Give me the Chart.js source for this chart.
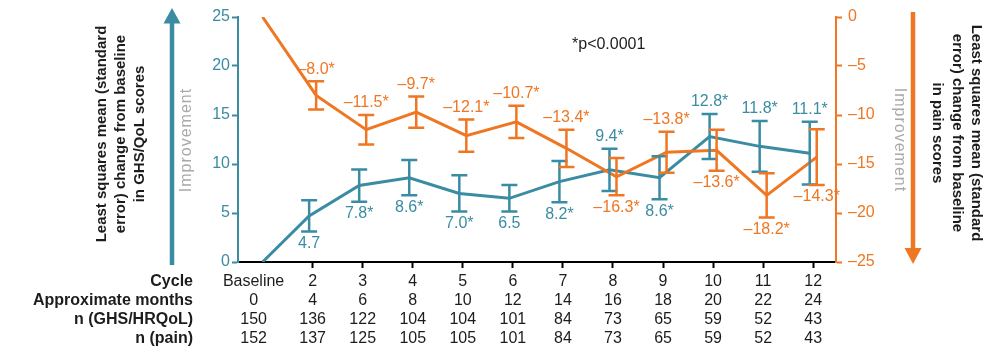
<!DOCTYPE html>
<html>
<head>
<meta charset="utf-8">
<script src="https://cdn.jsdelivr.net/npm/chart.js@4.4.1/dist/chart.umd.min.js"></script>
<style>
  html, body { margin: 0; padding: 0; background: #ffffff; }
  #wrap { width: 1008px; height: 349px; position: relative; }
</style>
</head>
<body>
<div id="wrap"><canvas id="c" width="1008" height="349"></canvas></div>
<script>
// Cycles and table rows
const cycles = ['Baseline', '2', '3', '4', '5', '6', '7', '8', '9', '10', '11', '12'];
const months = ['0', '4', '6', '8', '10', '12', '14', '16', '18', '20', '22', '24'];
const nGhs = [150, 136, 122, 104, 104, 101, 84, 73, 65, 59, 52, 43];
const nPain = [152, 137, 125, 105, 105, 101, 84, 73, 65, 59, 52, 43];

// GHS/QoL: least squares mean change from baseline and its standard error
const ghsChange = [0, 4.7, 7.8, 8.6, 7.0, 6.5, 8.2, 9.4, 8.6, 12.8, 11.8, 11.1];
const ghsSE = [null, 1.6, 1.65, 1.8, 1.85, 1.35, 2.1, 2.15, 2.2, 2.3, 2.6, 3.2];
const ghsSignificant = [false, false, true, true, true, false, true, true, true, true, true, true];
const ghsLabelAbove = [false, false, false, false, false, false, false, true, false, true, true, true];

// Pain: least squares mean change from baseline and its standard error
const painChange = [0, -8.0, -11.5, -9.7, -12.1, -10.7, -13.4, -16.3, -13.8, -13.6, -18.2, -14.3];
const painSE = [null, 1.45, 1.5, 1.6, 1.65, 1.65, 1.9, 1.9, 2.1, 2.1, 2.25, 2.85];
const painSignificant = [false, true, true, true, true, true, true, true, true, true, true, true];
const painLabelAbove = [false, true, true, true, true, true, true, false, true, false, false, false];

// Axis ticks
const ghsTicks = [0, 5, 10, 15, 20, 25];
const painTicks = [-25, -20, -15, -10, -5, 0];

const TEAL = '#3a8ca3';
const ORANGE = '#ef7622';
const GREY = '#a9a9a9';
const INK = '#1c1c1c';
const FONT = "'Liberation Sans', Arial, Helvetica, sans-serif";
const DODGE = 0.07; // side-by-side offset so the two error bars don't overlap

const dash = '\u2013';

function pts(values, shift) {
  return values.map((v, i) => ({ x: i + (i === 0 ? 0 : shift), y: v }));
}

// Error bars and value labels
const errorBarPlugin = {
  id: 'errorBars',
  afterDatasetsDraw(chart) {
    const ctx = chart.ctx;
    const series = [
      { ds: 0, axis: 'yL', vals: ghsChange, se: ghsSE, sig: ghsSignificant, above: ghsLabelAbove, color: TEAL,
        fmt: v => v.toFixed(1) },
      { ds: 1, axis: 'yR', vals: painChange, se: painSE, sig: painSignificant, above: painLabelAbove, color: ORANGE,
        fmt: v => (v < 0 ? dash : '') + Math.abs(v).toFixed(1) }
    ];
    ctx.save();
    series.forEach(s => {
      const meta = chart.getDatasetMeta(s.ds);
      const scale = chart.scales[s.axis];
      ctx.strokeStyle = s.color;
      ctx.fillStyle = s.color;
      ctx.lineWidth = 2.5;
      ctx.lineCap = 'butt';
      s.vals.forEach((v, i) => {
        if (s.se[i] == null) return;
        const x = meta.data[i].x;
        const yTop = scale.getPixelForValue(v + s.se[i]);
        const yBot = scale.getPixelForValue(v - s.se[i]);
        ctx.beginPath();
        ctx.moveTo(x, yTop); ctx.lineTo(x, yBot);
        ctx.moveTo(x - 8, yTop); ctx.lineTo(x + 8, yTop);
        ctx.moveTo(x - 8, yBot); ctx.lineTo(x + 8, yBot);
        ctx.stroke();
        ctx.font = '16px ' + FONT;
        ctx.textAlign = 'center';
        ctx.textBaseline = 'middle';
        const txt = s.fmt(v) + (s.sig[i] ? '*' : '');
        const ty = s.above[i] ? yTop - 12 : yBot + 12;
        ctx.fillText(txt, x, ty);
      });
    });
    ctx.restore();
  }
};

// Axis titles, direction arrows, footnote and the table under the axis
const decorPlugin = {
  id: 'decor',
  afterDraw(chart) {
    const ctx = chart.ctx;
    const xs = chart.scales.x;
    ctx.save();

    // left axis title
    ctx.fillStyle = INK;
    ctx.font = 'bold 15px ' + FONT;
    ctx.textAlign = 'center';
    ctx.textBaseline = 'middle';
    const leftTitle = ['Least squares mean (standard', 'error) change from baseline', 'in GHS/QoL scores'];
    ctx.save();
    ctx.translate(121, 134);
    ctx.rotate(-Math.PI / 2);
    leftTitle.forEach((t, j) => ctx.fillText(t, 0, (j - 1) * 19));
    ctx.restore();

    // right axis title
    const rightTitle = ['Least squares mean (standard', 'error) change from baseline', 'in pain scores'];
    ctx.save();
    ctx.translate(957, 133);
    ctx.rotate(Math.PI / 2);
    rightTitle.forEach((t, j) => ctx.fillText(t, 0, (j - 1) * 19.5));
    ctx.restore();

    // "Improvement" labels
    ctx.fillStyle = GREY;
    ctx.font = '16px ' + FONT;
    if ('letterSpacing' in ctx) ctx.letterSpacing = '1px';
    ctx.save();
    ctx.translate(187, 140);
    ctx.rotate(-Math.PI / 2);
    ctx.fillText('Improvement', 0, 0);
    ctx.restore();
    ctx.save();
    ctx.translate(899, 140);
    ctx.rotate(Math.PI / 2);
    ctx.fillText('Improvement', 0, 0);
    ctx.restore();
    if ('letterSpacing' in ctx) ctx.letterSpacing = '0px';

    // teal arrow pointing up
    ctx.fillStyle = TEAL;
    ctx.fillRect(169.75, 22, 4.5, 243);
    ctx.beginPath();
    ctx.moveTo(172, 8); ctx.lineTo(180.5, 23.5); ctx.lineTo(163.5, 23.5); ctx.closePath();
    ctx.fill();

    // orange arrow pointing down
    ctx.fillStyle = ORANGE;
    ctx.fillRect(910.75, 12, 4.5, 238);
    ctx.beginPath();
    ctx.moveTo(913, 264); ctx.lineTo(921.5, 248); ctx.lineTo(904.5, 248); ctx.closePath();
    ctx.fill();

    // footnote
    ctx.fillStyle = INK;
    ctx.font = '16px ' + FONT;
    ctx.textAlign = 'left';
    ctx.fillText('*p<0.0001', 572, 45);

    // table under the x axis
    const rows = [
      { head: 'Cycle', cells: cycles },
      { head: 'Approximate months', cells: months },
      { head: 'n (GHS/HRQoL)', cells: nGhs },
      { head: 'n (pain)', cells: nPain }
    ];
    const rowY = [282, 301, 320, 339];
    rows.forEach((r, k) => {
      ctx.font = 'bold 16px ' + FONT;
      ctx.textAlign = 'right';
      ctx.fillText(r.head, 193, rowY[k]);
      ctx.font = '16px ' + FONT;
      ctx.textAlign = 'center';
      r.cells.forEach((c, i) => {
        const x = xs.getPixelForValue(i) + (i === 0 ? -9 : 0);
        ctx.fillText(String(c), x, rowY[k]);
      });
    });
    ctx.restore();
  }
};

new Chart(document.getElementById('c'), {
  type: 'line',
  data: {
    datasets: [
      {
        label: 'GHS/QoL',
        data: pts(ghsChange, -DODGE),
        yAxisID: 'yL',
        borderColor: TEAL,
        borderWidth: 3,
        pointRadius: 0,
        tension: 0,
        order: 1
      },
      {
        label: 'Pain',
        data: pts(painChange, DODGE),
        yAxisID: 'yR',
        borderColor: ORANGE,
        borderWidth: 3,
        pointRadius: 0,
        tension: 0,
        order: 0
      }
    ]
  },
  options: {
    responsive: false,
    animation: false,
    layout: { padding: { top: 17, left: 0, right: 0, bottom: 0 } },
    plugins: { legend: { display: false }, tooltip: { enabled: false } },
    scales: {
      x: {
        type: 'linear',
        min: -0.491,
        max: 11.455,
        afterBuildTicks: s => { s.ticks = cycles.map((_, i) => ({ value: i })); },
        ticks: { display: false },
        grid: {
          drawOnChartArea: false,
          tickLength: 6,
          tickWidth: 2,
          tickColor: c => (c.index === 0 ? 'rgba(0,0,0,0)' : '#000000')
        },
        border: { color: '#000000', width: 2 },
        afterFit: s => { s.height = 87; }
      },
      yL: {
        position: 'left',
        min: 0,
        max: 25,
        afterBuildTicks: s => { s.ticks = ghsTicks.map(v => ({ value: v })); },
        ticks: { color: TEAL, font: { size: 16, family: FONT }, padding: 2 },
        grid: { drawOnChartArea: false, color: TEAL, tickLength: 6, tickWidth: 2 },
        border: { color: TEAL, width: 2 },
        afterFit: s => { s.width = 238; }
      },
      yR: {
        position: 'right',
        min: -25,
        max: 0,
        afterBuildTicks: s => { s.ticks = painTicks.map(v => ({ value: v })); },
        ticks: {
          color: ORANGE,
          font: { size: 16, family: FONT },
          padding: 6,
          callback: v => (v < 0 ? dash + Math.abs(v) : String(v))
        },
        grid: { drawOnChartArea: false, color: ORANGE, tickLength: 6, tickWidth: 2 },
        border: { color: ORANGE, width: 2 },
        afterFit: s => { s.width = 172; }
      }
    }
  },
  plugins: [errorBarPlugin, decorPlugin]
});
</script>
</body>
</html>
